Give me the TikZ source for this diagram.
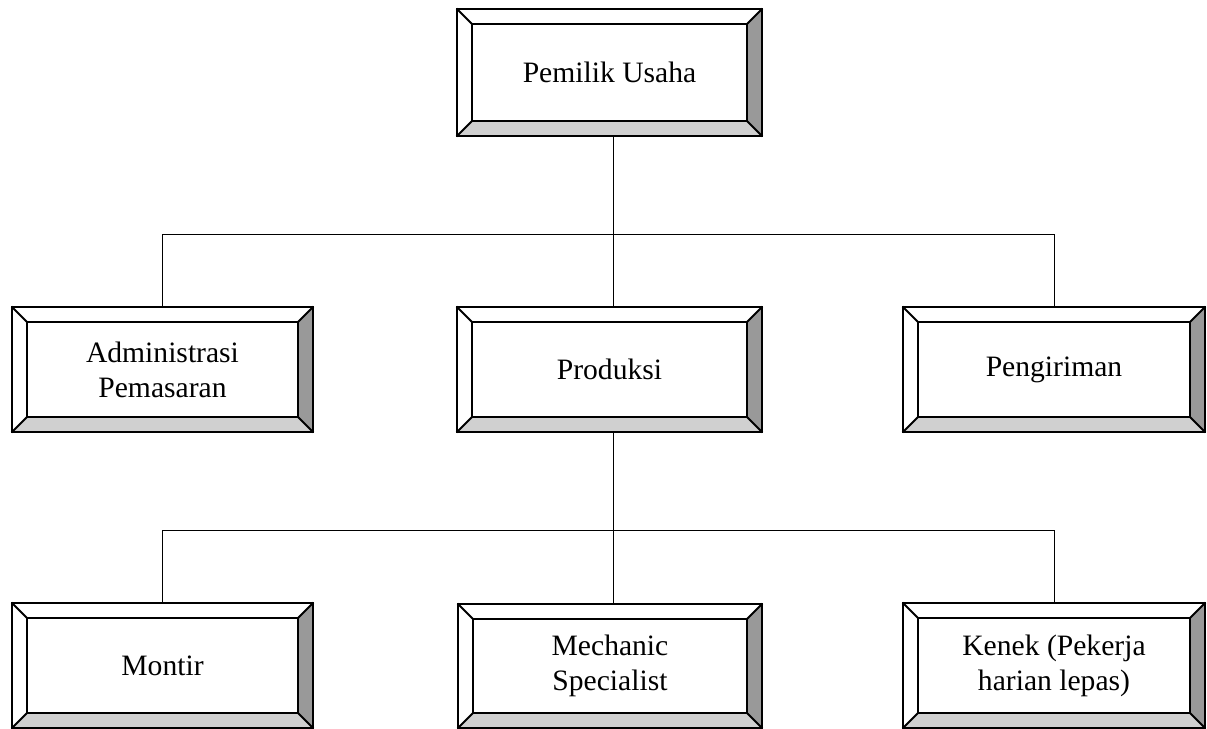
\documentclass[tikz,border=0pt]{standalone}
\usepackage{fontspec}
\setmainfont{Liberation Serif}
\definecolor{dgrey}{HTML}{999999}
\definecolor{lgrey}{HTML}{D0D0D0}
\tikzset{
  bbx/.style={fill=white, inner sep=0pt, align=center, font=\fontsize{14.8}{17.5}\selectfont},
  bl/.style={draw=black, line width=1pt},
  conn/.style={draw=black, line width=0.5pt}
}
\newcommand\bevelbox[6]{%
  \node[bbx, minimum width={(#4-#2)*0.5pt}, minimum height={(#5-#3)*0.5pt}] (#1) at ({(#2+#4)/2},{(#3+#5)/2}) {#6};
  \fill[lgrey] (#1.south west) -- (#1.south east) -- ([shift={(-15,-15)}]#1.south east) -- ([shift={(15,-15)}]#1.south west) -- cycle;
  \fill[dgrey] (#1.south east) -- (#1.north east) -- ([shift={(-15,15)}]#1.north east) -- ([shift={(-15,-15)}]#1.south east) -- cycle;
  \draw[bl] (#1.north west) rectangle (#1.south east);
  \draw[bl] ([shift={(15,15)}]#1.north west) rectangle ([shift={(-15,-15)}]#1.south east);
  \draw[bl] (#1.north west) -- ([shift={(15,15)}]#1.north west);
  \draw[bl] (#1.north east) -- ([shift={(-15,15)}]#1.north east);
  \draw[bl] (#1.south west) -- ([shift={(15,-15)}]#1.south west);
  \draw[bl] (#1.south east) -- ([shift={(-15,-15)}]#1.south east);
}
\begin{document}
\begin{tikzpicture}[x=0.5pt, y=-0.5pt]
\useasboundingbox (0,0) rectangle (1207,729);
\coordinate (j1) at (613,234);
\coordinate (j2) at (613,530);
\bevelbox{top}{457}{9}{762}{136}{Pemilik Usaha}
\bevelbox{adm}{12}{307}{313}{432}{Administrasi\\Pemasaran}
\bevelbox{prod}{457}{307}{762}{432}{Produksi}
\bevelbox{peng}{903}{307}{1205}{432}{Pengiriman}
\bevelbox{mont}{12}{603}{313}{728}{Montir}
\bevelbox{mech}{458}{604}{762}{728}{Mechanic\\Specialist}
\bevelbox{ken}{903}{603}{1205}{728}{Kenek (Pekerja\\harian lepas)}
\draw[conn] (top.south -| j1) -- (j1);
\draw[conn] (adm.north) -- (adm.north |- j1) -- (peng.north |- j1) -- (peng.north);
\draw[conn] (j1) -- (prod.north -| j1);
\draw[conn] (prod.south -| j2) -- (j2);
\draw[conn] (mont.north) -- (mont.north |- j2) -- (ken.north |- j2) -- (ken.north);
\draw[conn] (j2) -- (mech.north -| j2);
\end{tikzpicture}
\end{document}
